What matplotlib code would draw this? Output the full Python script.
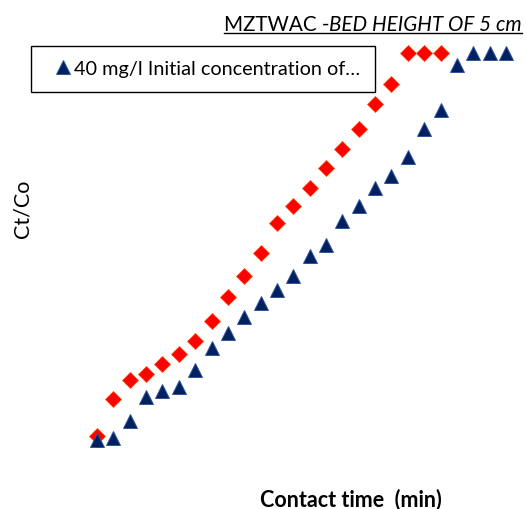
import matplotlib
matplotlib.use("Agg")
import matplotlib.pyplot as plt
from matplotlib.lines import Line2D

plt.rcParams['font.family'] = ['Lato', 'DejaVu Sans']

# Contact time (min) – evenly spaced samples
time_40 = list(range(0, 130, 5))          # 26 points
ct_co_40 = [0.01, 0.015, 0.06, 0.12, 0.135, 0.145, 0.19, 0.245, 0.285, 0.325,
            0.36, 0.395, 0.43, 0.48, 0.51, 0.57, 0.61, 0.655, 0.685, 0.735,
            0.805, 0.855, 0.97, 1.0, 1.0, 1.0]
time_2 = list(range(0, 110, 5))           # 22 points
ct_co_2 = [0.02, 0.115, 0.165, 0.18, 0.205, 0.23, 0.265, 0.315, 0.375, 0.43,
           0.49, 0.565, 0.61, 0.655, 0.705, 0.755, 0.805, 0.87, 0.92, 1.0,
           1.0, 1.0]

legend_label = "40 mg/l Initial concentration of…"
title_plain = "MZTWAC -"
title_italic = "BED HEIGHT OF 5 cm"
xlabel = "Contact time  (min)"
ylabel = "Ct/Co"

W, H = 526, 510
fig = plt.figure(figsize=(W / 100, H / 100), dpi=100)
ax = fig.add_axes([80 / W, 50 / H, 440 / W, 420 / H])

tri, = ax.plot(time_40, ct_co_40, linestyle='none', marker='^', markersize=10.5,
               markerfacecolor='#002060', markeredgecolor='#2F5597', markeredgewidth=0.7,
               zorder=3)
ax.plot(time_2, ct_co_2, linestyle='none', marker='D', markersize=7.8,
        markerfacecolor='#FF0000', markeredgecolor='#FF4A00', markeredgewidth=0.5,
        zorder=2)

ax.set_xlim(-5.2, 129.3)
ax.set_ylim(-0.038, 1.036)
ax.set_xticks([])
ax.set_yticks([])
for s in ax.spines.values():
    s.set_visible(False)

fig.legend(handles=[tri], labels=[legend_label], loc='upper left',
           bbox_to_anchor=(31 / W, 1 - 47 / H), borderaxespad=0,
           frameon=True, fancybox=False, edgecolor='black', framealpha=1,
           fontsize=14.3, handlelength=1.8, handletextpad=-0.35, borderpad=0.72,
           numpoints=1)
fig.legends[0].get_frame().set_linewidth(1.0)

fig.text(22 / W, 1 - 209 / H, ylabel, rotation=90, ha='center', va='center', fontsize=15.5)
fig.text(351 / W, 1 - 500 / H, xlabel, ha='center', va='center', fontsize=15.5,
         fontweight='bold')

# Title with underline, mixed normal/italic
t_it = fig.text(522 / W, 1 - 31 / H, title_italic, ha='right', va='baseline',
                fontsize=14.9, fontstyle='italic')
fig.canvas.draw()
r = fig.canvas.get_renderer()
bb_it = t_it.get_window_extent(r)
t_pl = fig.text(bb_it.x0 / W, 1 - 31 / H, title_plain, ha='right', va='baseline',
                fontsize=14.9)
fig.canvas.draw()
bb_pl = t_pl.get_window_extent(r)
uy = (H - 34) / H
fig.add_artist(Line2D([bb_pl.x0 / W, bb_it.x1 / W], [uy, uy], color='black', lw=1.0,
                      transform=fig.transFigure))

fig.savefig("out.png", dpi=100)
